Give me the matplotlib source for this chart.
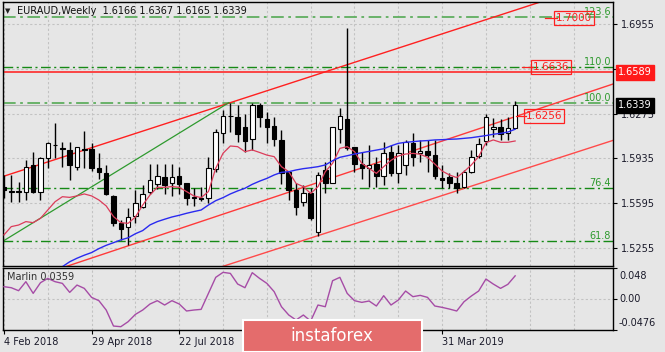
import matplotlib
matplotlib.use("Agg")
import matplotlib.pyplot as plt
from matplotlib.patches import Rectangle
import numpy as np

plt.rcParams['font.family'] = ['DejaVu Sans']

W, H = 665, 352
BG = '#E6E6E6'

# ---------------- data ----------------
opens = [1.5715, 1.5676, 1.5684, 1.5682, 1.5885, 1.5682, 1.5935, 1.6040, 1.6015, 1.5999,
         1.5867, 1.6008, 1.6004, 1.5859, 1.5827, 1.5650, 1.5447, 1.5412, 1.5498, 1.5564,
         1.5683, 1.5741, 1.5791, 1.5751, 1.5802, 1.5751, 1.5640, 1.5635, 1.5632, 1.5852,
         1.6125, 1.6259, 1.6247, 1.6176, 1.6080, 1.6340, 1.6231, 1.6180, 1.6074, 1.5834,
         1.5695, 1.5606, 1.5675, 1.5379, 1.5847, 1.5745, 1.6155, 1.6231, 1.6019, 1.5892,
         1.5859, 1.5892, 1.5801, 1.5985, 1.5822, 1.5885, 1.6049, 1.5973, 1.5991, 1.5961,
         1.5789, 1.5791, 1.5751, 1.5720, 1.5834, 1.5956, 1.6070, 1.6156, 1.6171, 1.6125,
         1.6166]
highs = [1.5809, 1.5809, 1.5758, 1.5923, 1.5981, 1.5948, 1.6062, 1.6201, 1.6062, 1.6062,
         1.6024, 1.6145, 1.6049, 1.5978, 1.5885, 1.5655, 1.5467, 1.5556, 1.5695, 1.5733,
         1.5890, 1.5890, 1.5890, 1.5890, 1.5867, 1.5751, 1.5708, 1.5721, 1.5943, 1.6156,
         1.6302, 1.6353, 1.6340, 1.6272, 1.6358, 1.6358, 1.6289, 1.6251, 1.6150, 1.5834,
         1.5745, 1.5733, 1.5707, 1.5834, 1.5910, 1.6175, 1.6315, 1.6922, 1.6019, 1.5986,
         1.6036, 1.5948, 1.6062, 1.6040, 1.6037, 1.6075, 1.6125, 1.6075, 1.6075, 1.6075,
         1.5885, 1.5822, 1.5834, 1.5847, 1.5999, 1.6087, 1.6272, 1.6239, 1.6231, 1.6252,
         1.6367]
lows = [1.5632, 1.5606, 1.5606, 1.5619, 1.5670, 1.5619, 1.5859, 1.5935, 1.5872, 1.5771,
        1.5847, 1.5859, 1.5842, 1.5776, 1.5657, 1.5425, 1.5316, 1.5278, 1.5442, 1.5556,
        1.5665, 1.5700, 1.5665, 1.5650, 1.5665, 1.5581, 1.5574, 1.5614, 1.5599, 1.5834,
        1.6049, 1.6138, 1.6062, 1.5986, 1.5999, 1.6176, 1.6049, 1.6029, 1.5740, 1.5619,
        1.5505, 1.5573, 1.5467, 1.5346, 1.5669, 1.5745, 1.6049, 1.5995, 1.5835, 1.5776,
        1.5720, 1.5720, 1.5733, 1.5801, 1.5746, 1.5809, 1.5877, 1.5910, 1.5834, 1.5776,
        1.5708, 1.5708, 1.5675, 1.5708, 1.5822, 1.5935, 1.6037, 1.6100, 1.6075, 1.6075,
        1.6165]
closes = [1.5695, 1.5684, 1.5680, 1.5867, 1.5682, 1.5935, 1.6054, 1.6034, 1.6005, 1.5885,
          1.6019, 1.6000, 1.5859, 1.5834, 1.5665, 1.5445, 1.5399, 1.5488, 1.5599, 1.5662,
          1.5771, 1.5802, 1.5733, 1.5797, 1.5741, 1.5632, 1.5635, 1.5630, 1.5860, 1.6138,
          1.6257, 1.6254, 1.6120, 1.6067, 1.6340, 1.6252, 1.6170, 1.6082, 1.5821, 1.5695,
          1.5568, 1.5669, 1.5480, 1.5809, 1.5745, 1.6170, 1.6259, 1.6011, 1.5892, 1.5859,
          1.5884, 1.5804, 1.5973, 1.5822, 1.5973, 1.6062, 1.5948, 1.5991, 1.5961, 1.5801,
          1.5774, 1.5751, 1.5708, 1.5834, 1.5948, 1.6044, 1.6247, 1.6176, 1.6120, 1.6166,
          1.6339]

ma_fast = [1.5354, 1.5417, 1.5429, 1.5455, 1.5447, 1.5480, 1.5543, 1.5606, 1.5644, 1.5639,
           1.5650, 1.5665, 1.5650, 1.5619, 1.5574, 1.5493, 1.5447, 1.5442, 1.5490, 1.5581,
           1.5657, 1.5715, 1.5715, 1.5721, 1.5715, 1.5683, 1.5650, 1.5637, 1.5683, 1.5860,
           1.5974, 1.6029, 1.6024, 1.5986, 1.5999, 1.5980, 1.5960, 1.5948, 1.5872, 1.5834,
           1.5745, 1.5720, 1.5669, 1.5720, 1.5834, 1.5897, 1.6011, 1.6024, 1.5986, 1.5897,
           1.5859, 1.5821, 1.5872, 1.5920, 1.5953, 1.5968, 1.5973, 1.5966, 1.5943, 1.5892,
           1.5839, 1.5809, 1.5789, 1.5834, 1.5885, 1.5948, 1.6054, 1.6075, 1.6057, 1.6057,
           1.6067]

ma_slow = [np.nan] * 8 + [
           1.5113, 1.5150, 1.5177, 1.5200, 1.5220, 1.5250, 1.5275, 1.5295, 1.5316, 1.5332,
           1.5363, 1.5387, 1.5430, 1.5455, 1.5473, 1.5490, 1.5503, 1.5518, 1.5531, 1.5543,
           1.5581, 1.5614, 1.5637, 1.5665, 1.5688, 1.5708, 1.5738, 1.5762, 1.5783, 1.5809,
           1.5829, 1.5834, 1.5847, 1.5857, 1.5864, 1.5872, 1.5885, 1.5917, 1.5943, 1.5955,
           1.5968, 1.5978, 1.5988, 1.5998, 1.6008, 1.6030, 1.6049, 1.6057, 1.6062, 1.6067,
           1.6070, 1.6075, 1.6077, 1.6080, 1.6082, 1.6087, 1.6092, 1.6100, 1.6108, 1.6118,
           1.6125, 1.6135, 1.6156]

marlin = [0.0192, 0.0176, 0.0130, 0.0269, 0.0089, 0.0253, 0.0320, 0.0269, 0.0243, 0.0104,
          0.0217, 0.0166, 0.0027, -0.0024, -0.0168, -0.0415, -0.0425, -0.0348, -0.0235, -0.0168,
          -0.0075, -0.0024, -0.0091, -0.0024, -0.0075, -0.0183, -0.0168, -0.0158, 0.0089, 0.0336,
          0.0413, 0.0397, 0.0233, 0.0176, 0.0408, 0.0320, 0.0243, 0.0115, -0.0117, -0.0245,
          -0.0322, -0.0245, -0.0338, -0.0091, -0.0117, 0.0284, 0.0336, 0.0089, -0.0024, -0.0050,
          -0.0029, -0.0106, 0.0053, -0.0091, -0.0014, 0.0125, 0.0038, 0.0058, 0.0027, -0.0106,
          -0.0127, -0.0153, -0.0183, -0.0040, 0.0048, 0.0125, 0.0310, 0.0233, 0.0166, 0.0228,
          0.0359]

# visible date labels (the ones at bars 36 and 48 are hidden under the logo in the reference)
date_tick_pos = [0, 12, 24, 60]
date_tick_labels = ['4 Feb 2018', '29 Apr 2018', '22 Jul 2018', '31 Mar 2019']
price_ticks = [1.6955, 1.6615, 1.6275, 1.5935, 1.5595, 1.5255]
marlin_ticks = [0.048, 0.0, -0.0476]
marlin_tick_labels = ['0.048', '0.00', '-0.0476']

fib_levels = [1.5311, 1.5708, 1.6358, 1.6632, 1.7005]
fib_names = ['61.8', '76.4', '100.0', '110.0', '123.6']
resistance = 1.6589
last_price = 1.6339

# trend lines: (index, price) anchor + slope per bar
channel_upper = (31.0, 1.6358, 0.00180)
channel_mid = (31.0, 1.5530, 0.00185)
channel_low = (32.7, 1.5164, 0.00179)
green_line = [(0.0, 1.5311), (30.8, 1.6358)]

price_labels = ['1.7000', '1.6636', '1.6256']
price_label_values = [1.7000, 1.6630, 1.6257]

# ---------------- figure ----------------
def fx(px):
    return px / W


def fy(py):
    return 1 - py / H


fig = plt.figure(figsize=(W / 100, H / 100), dpi=100, facecolor=BG)
L, R = 2.5, 613
ax = fig.add_axes([fx(L), fy(266), (R - L) / W, (266 - 2) / H], facecolor=BG)
ax2 = fig.add_axes([fx(L), fy(330), (R - L) / W, (330 - 268) / H], facecolor=BG)

o = np.array(opens); h = np.array(highs); lo = np.array(lows); c = np.array(closes)
idx = np.arange(len(o))
XMIN, XMAX = -0.2, 83.4
ax.set_xlim(XMIN, XMAX)
ax.set_ylim(1.5118, 1.7122)
ax2.set_xlim(XMIN, XMAX)
ax2.set_ylim(-0.0476, 0.048)

grid_kw = dict(color='#C2C2C2', lw=0.8, ls=(0, (2, 2)), zorder=0)
for g in range(0, 84, 6):
    ax.axvline(g, **grid_kw)
    ax2.axvline(g, **grid_kw)
for p in price_ticks:
    ax.axhline(p, **grid_kw)
ax2.axhline(0.0, **grid_kw)

# bid line and horizontal levels
ax.axhline(last_price, color='#B4B4B4', lw=0.8, zorder=1)
for lev, name in zip(fib_levels, fib_names):
    light = name in ('100.0', '123.6')
    col = '#5FAE5F' if light else '#168A16'
    ax.axhline(lev, color=col, lw=1.3 if light else 1.0, ls=(0, (7, 2.5, 1.5, 2.5)), zorder=2)
    ax.text(XMAX - 0.25, lev, name, color='#2E9A2E', fontsize=7, ha='right', va='bottom', zorder=6)
ax.axhline(resistance, color='#FF2A2A', lw=1.2, zorder=2)

# trend lines
xs = np.array([XMIN - 2, XMAX + 2])
for (x0, p0, s), col in zip([channel_upper, channel_mid, channel_low],
                            ['#FF2020', '#FF3A3A', '#FF4A4A']):
    ax.plot(xs, p0 + (xs - x0) * s, color=col, lw=1.0, zorder=2)
ax.plot([green_line[0][0], green_line[1][0]], [green_line[0][1], green_line[1][1]],
        color='#2E9A2E', lw=0.9, zorder=2)

# candles
ax.vlines(idx, lo, h, color='black', lw=1.0, zorder=3)
body_h = np.maximum(np.abs(c - o), 0.00012)
faces = ['white' if cc >= oo else 'black' for oo, cc in zip(o, c)]
ax.bar(idx, body_h, bottom=np.minimum(o, c), width=0.62, color=faces,
       edgecolor='black', linewidth=0.8, zorder=4)

# moving averages
ax.plot(idx, ma_fast, color='#DC3C5A', lw=0.9, zorder=5)
ax.plot(idx, ma_slow, color='#2A2AF0', lw=1.0, zorder=5)

# marlin
ax2.plot(idx, marlin, color='#A64CA6', lw=1.0, zorder=3)

# ticks
for a in (ax, ax2):
    for sp in a.spines.values():
        sp.set_color('black'); sp.set_linewidth(1.0)
ax.set_xticks([])
ax.yaxis.tick_right()
ax.set_yticks(price_ticks)
ax.set_yticklabels([f'{p:.4f}' for p in price_ticks])
ax.tick_params(axis='y', direction='out', length=3, width=0.8, pad=3,
               labelsize=7, labelcolor='#1A1A2A', color='black')

ax2.yaxis.tick_right()
ax2.set_yticks(marlin_ticks)
ax2.set_yticklabels([])
ax2.tick_params(axis='y', direction='out', length=3, width=0.8, color='black')
offs = [-8, 0, 7]
for v, t, d in zip(marlin_ticks, marlin_tick_labels, offs):
    ax2.annotate(t, xy=(1, v), xycoords=('axes fraction', 'data'), xytext=(6, d),
                 textcoords='offset pixels', fontsize=7, va='center', ha='left',
                 color='#1A1A2A', annotation_clip=False)

ax2.set_xticks(date_tick_pos)
ax2.set_xticklabels(date_tick_labels)
ax2.tick_params(axis='x', direction='out', length=3, width=0.8, pad=2,
                labelsize=7, labelcolor='#1A1A2A')
for lab in ax2.get_xticklabels():
    lab.set_ha('left')

# right side price flags
for val, txt, fc in [(resistance, '1.6589', '#FF1A1A'), (last_price, '1.6339', 'black')]:
    ax.annotate(txt, xy=(1, val), xycoords=('axes fraction', 'data'), xytext=(5, 0),
                textcoords='offset pixels', fontsize=7, va='center', ha='left', color='white',
                annotation_clip=False, zorder=10,
                bbox=dict(boxstyle='square,pad=0.25', fc=fc, ec=fc))

# boxed price labels
label_px = [574, 551, 544]
lead_px = [(545, 557), (522, 533), (516, 526)]
for txt, val, xp, (l0, l1) in zip(price_labels, price_label_values, label_px, lead_px):
    xi = (xp - 4) / 7.3
    ax.text(xi, val, txt, fontsize=7.5, color='#FF2020', ha='center', va='center', zorder=8,
            bbox=dict(boxstyle='square,pad=0.2', fc='none', ec='#FF2020', lw=0.9))
    ax.plot([(l0 - 4) / 7.3, (l1 - 4) / 7.3], [val, val], color='#FF2020', lw=0.9, zorder=7)

# title
fig.text(fx(5), fy(11), '\u25BC', fontsize=5, va='center', ha='left', color='#202020')
fig.text(fx(17), fy(11), 'EURAUD,Weekly  1.6166 1.6367 1.6165 1.6339', fontsize=7,
         va='center', ha='left', color='#101010')
fig.text(fx(7), fy(277), 'Marlin 0.0359', fontsize=7, va='center', ha='left', color='#303030')

# logo
fig.patches.append(Rectangle((fx(243), 0), (422 - 243) / W, (352 - 320) / H,
                             transform=fig.transFigure, fc='#E46C6C', ec='white', lw=1.5,
                             zorder=20))
fig.text(fx(290), fy(336), 'instaforex', fontsize=12, color='white', va='center', ha='left',
         zorder=21)

fig.savefig('out.png', dpi=100, facecolor=BG)
